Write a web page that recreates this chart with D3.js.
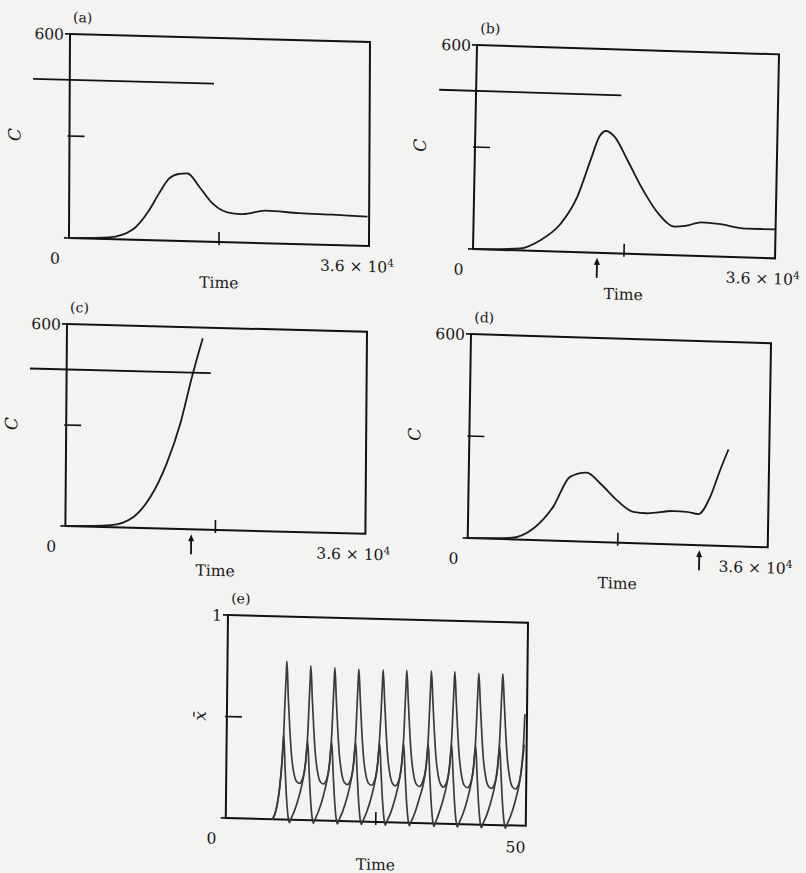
<!DOCTYPE html>
<html>
<head>
<meta charset="utf-8">
<script src="https://cdn.jsdelivr.net/npm/d3@7"></script>
<style>
  body { margin: 0; background: #f3f3f1; }
  text { font-family: "DejaVu Serif", "Liberation Serif", serif; fill: #1a1a1a; }
</style>
</head>
<body>
<script>
// values: [time, C]
const curveA = [[0,0],[4800,5],[7600,29],[9600,88],[10800,139],[12000,183],[13200,197],[14200,199],
  [15600,161],[17200,113],[19600,85],[20800,84],[23600,96],[27600,91],[31600,89],[35800,86]]
const curveB = [[0,0],[5600,6],[8000,32],[10400,83],[12300,163],[13800,272],[14800,342],[15600,359],
  [16600,343],[18200,275],[19900,198],[22000,121],[24000,84],[25200,87],[27200,99],[29200,96],[32400,85],[36000,85]]
const curveC = [[0,0],[5400,6],[8200,33],[10200,94],[12100,194],[13700,314],[15050,453],[16300,568]]
const curveD = [[0,0],[5100,4],[7850,34],[10200,100],[12150,189],[14150,203],[15770,173],[17800,125],
  [19800,92],[21400,89],[24600,98],[26200,97],[27600,91],[29000,143],[30150,223],[31100,284]]

// panel (e): two traces of x-bar against time
const traceUpper = [[7.8,0],[8.4,0.05],[8.9,0.15],[9.3,0.3],[9.5,0.42],[9.65,0.58],[9.8,0.7],[9.9,0.78],
  [10.2,0.6],[10.5,0.45],[10.8,0.33],[11.2,0.24],[11.7,0.19],[12.2,0.18],[12.8,0.21],[13.2,0.29],[13.5,0.42],[13.65,0.55],[13.8,0.68],[13.9,0.76],
  [14.2,0.6],[14.5,0.45],[14.8,0.33],[15.2,0.24],[15.7,0.19],[16.2,0.18],[16.8,0.21],[17.2,0.29],[17.5,0.42],[17.65,0.55],[17.8,0.68],[17.9,0.755],
  [18.2,0.6],[18.5,0.45],[18.8,0.33],[19.2,0.24],[19.7,0.19],[20.2,0.18],[20.8,0.21],[21.2,0.29],[21.5,0.42],[21.65,0.55],[21.8,0.68],[21.9,0.75],
  [22.2,0.6],[22.5,0.45],[22.8,0.33],[23.2,0.24],[23.7,0.19],[24.2,0.18],[24.8,0.21],[25.2,0.29],[25.5,0.42],[25.7,0.55],[25.85,0.68],[25.95,0.75],
  [26.25,0.6],[26.55,0.45],[26.85,0.33],[27.25,0.24],[27.75,0.19],[28.2,0.18],[28.8,0.21],[29.2,0.29],[29.5,0.42],[29.65,0.55],[29.8,0.68],[29.9,0.75],
  [30.2,0.6],[30.5,0.45],[30.8,0.33],[31.2,0.24],[31.7,0.19],[32.2,0.18],[32.8,0.21],[33.3,0.29],[33.6,0.42],[33.75,0.55],[33.9,0.68],[34.0,0.75],
  [34.3,0.6],[34.6,0.45],[34.9,0.33],[35.3,0.24],[35.8,0.19],[36.2,0.18],[36.8,0.21],[37.2,0.29],[37.5,0.42],[37.65,0.55],[37.8,0.68],[37.9,0.75],
  [38.2,0.6],[38.5,0.45],[38.8,0.33],[39.2,0.24],[39.7,0.19],[40.2,0.18],[40.8,0.21],[41.2,0.29],[41.5,0.42],[41.65,0.55],[41.8,0.68],[41.9,0.745],
  [42.2,0.6],[42.5,0.45],[42.8,0.33],[43.2,0.24],[43.7,0.19],[44.2,0.18],[44.8,0.21],[45.2,0.29],[45.5,0.42],[45.65,0.55],[45.8,0.68],[45.9,0.745],
  [46.2,0.6],[46.5,0.45],[46.8,0.33],[47.2,0.24],[47.7,0.19],[48.2,0.18],[48.8,0.21],[49.2,0.29],[49.5,0.42],[49.65,0.55]]
const traceLower = [[7.8,0],[8.4,0.05],[8.9,0.15],[9.3,0.3],[9.5,0.42],
  [9.8,0.25],[10.1,0.1],[10.4,0.01],[10.6,-0.015],[10.8,0],[11.5,0.05],[12.2,0.12],[12.8,0.2],[13.2,0.28],[13.5,0.39],
  [13.8,0.24],[14.1,0.1],[14.4,0.01],[14.6,-0.015],[14.8,0],[15.5,0.05],[16.2,0.12],[16.8,0.2],[17.2,0.28],[17.5,0.39],
  [17.8,0.24],[18.1,0.1],[18.4,0.01],[18.6,-0.015],[18.8,0],[19.5,0.05],[20.2,0.12],[20.8,0.2],[21.2,0.28],[21.5,0.39],
  [21.8,0.24],[22.1,0.1],[22.4,0.01],[22.6,-0.015],[22.8,0],[23.5,0.05],[24.2,0.12],[24.8,0.2],[25.2,0.28],[25.5,0.39],
  [25.8,0.24],[26.1,0.1],[26.4,0.01],[26.6,-0.015],[26.8,0],[27.5,0.05],[28.2,0.12],[28.8,0.2],[29.2,0.28],[29.5,0.39],
  [29.8,0.24],[30.1,0.1],[30.4,0.01],[30.6,-0.015],[30.8,0],[31.5,0.05],[32.2,0.12],[32.9,0.2],[33.3,0.28],[33.6,0.39],
  [33.9,0.24],[34.2,0.1],[34.5,0.01],[34.7,-0.015],[34.9,0],[35.5,0.05],[36.2,0.12],[36.8,0.2],[37.2,0.28],[37.5,0.39],
  [37.8,0.24],[38.1,0.1],[38.4,0.01],[38.6,-0.015],[38.8,0],[39.5,0.05],[40.2,0.12],[40.8,0.2],[41.2,0.28],[41.5,0.39],
  [41.8,0.24],[42.1,0.1],[42.4,0.01],[42.6,-0.015],[42.8,0],[43.5,0.05],[44.2,0.12],[44.8,0.2],[45.2,0.28],[45.5,0.39],
  [45.8,0.24],[46.1,0.1],[46.4,0.01],[46.6,-0.015],[46.8,0],[47.5,0.05],[48.2,0.12],[48.8,0.2],[49.2,0.28],[49.6,0.4]]

// horizontal level line in (a)-(c) and the arrow marks
const thresholdC = 465
const thresholdSpan = [-4400, 17300]
const arrowTime = { b: 14800, c: 15100, d: 27800 }

const letters = ["(a)", "(b)", "(c)", "(d)", "(e)"]

// page layout; the scan is slightly sheared so each panel gets its own matrix
const panels = [
  { key: "a", x: 70,  y: 34,  w: 300, h: 204, ky: 0.0265, kx: -0.005, series: [curveA], xMax: 36000, yMax: 600, top: "600", right: "sci", yLab: "C", level: true },
  { key: "b", x: 477, y: 45,  w: 302, h: 204, ky: 0.031,  kx: -0.0196, series: [curveB], xMax: 36000, yMax: 600, top: "600", right: "sci", yLab: "C", level: true },
  { key: "c", x: 67,  y: 324, w: 300, h: 202, ky: 0.026,  kx: -0.008, series: [curveC], xMax: 36000, yMax: 600, top: "600", right: "sci", yLab: "C", level: true },
  { key: "d", x: 471, y: 334, w: 300, h: 204, ky: 0.031,  kx: -0.016, series: [curveD], xMax: 36000, yMax: 600, top: "600", right: "sci", yLab: "C", level: false },
  { key: "e", x: 228, y: 615, w: 300, h: 203, ky: 0.026,  kx: -0.011, series: [traceUpper, traceLower], xMax: 50, yMax: 1, top: "1", right: "50", yLab: "x\u0304", level: false }
]

const svg = d3.select("body").append("svg")
    .attr("width", 806)
    .attr("height", 873)

svg.append("rect").attr("width", 806).attr("height", 873).attr("fill", "#f3f3f1")

panels.forEach((p, i) => {
  const g = svg.append("g")
      .attr("transform", `matrix(1,${p.ky},${p.kx},1,${p.x},${p.y})`)

  const x = d3.scaleLinear().domain([0, p.xMax]).range([0, p.w])
  const y = d3.scaleLinear().domain([0, p.yMax]).range([p.h, 0])

  // frame
  g.append("rect")
      .attr("width", p.w).attr("height", p.h)
      .attr("fill", "none").attr("stroke", "#111").attr("stroke-width", 2)

  // outward ticks at top and bottom of the y range
  ;[0, p.yMax].forEach(v => {
    g.append("line").attr("x1", -5).attr("x2", 0).attr("y1", y(v)).attr("y2", y(v))
      .attr("stroke", "#111").attr("stroke-width", 1.6)
  })
  // inward mid tick on y, crossing mid tick on x
  g.append("line").attr("x1", -2).attr("x2", 15).attr("y1", y(p.yMax / 2)).attr("y2", y(p.yMax / 2))
      .attr("stroke", "#111").attr("stroke-width", 1.6)
  g.append("line").attr("x1", x(p.xMax / 2)).attr("x2", x(p.xMax / 2)).attr("y1", p.h - 10).attr("y2", p.h + 3)
      .attr("stroke", "#111").attr("stroke-width", 1.6)

  if (p.level) {
    g.append("line")
        .attr("x1", x(thresholdSpan[0])).attr("x2", x(thresholdSpan[1]))
        .attr("y1", y(thresholdC)).attr("y2", y(thresholdC))
        .attr("stroke", "#111").attr("stroke-width", 1.8)
  }

  const line = d3.line()
      .x(d => x(d[0]))
      .y(d => y(d[1]))
      .curve(d3.curveMonotoneX)

  p.series.forEach(s => {
    g.append("path")
        .attr("d", line(s))
        .attr("fill", "none")
        .attr("stroke", p.key === "e" ? "#3a3a3a" : "#1a1a1a")
        .attr("stroke-width", p.key === "e" ? 1.7 : 1.8)
        .attr("stroke-linejoin", "round")
  })

  if (arrowTime[p.key] !== undefined) {
    const ax = x(arrowTime[p.key])
    g.append("line").attr("x1", ax).attr("x2", ax).attr("y1", p.h + 10).attr("y2", p.h + 25)
        .attr("stroke", "#111").attr("stroke-width", 1.8)
    g.append("path")
        .attr("d", `M${ax - 3},${p.h + 12} L${ax},${p.h + 5} L${ax + 3},${p.h + 12} Z`)
        .attr("fill", "#111")
  }

  // texts
  g.append("text").attr("x", 3).attr("y", -12).attr("font-size", 14).text(letters[i])
  g.append("text").attr("x", -6).attr("y", 6).attr("text-anchor", "end").attr("font-size", 15.5).text(p.top)
  g.append("text").attr("x", -14).attr("y", p.h + 26).attr("text-anchor", "middle").attr("font-size", 15.5).text("0")

  if (p.right === "sci") {
    const t = g.append("text").attr("x", p.w + 25).attr("y", p.h + 26).attr("text-anchor", "end").attr("font-size", 15.5)
    t.append("tspan").text("3.6 \u00d7 10")
    t.append("tspan").attr("dy", -6).attr("font-size", 10.5).text("4")
  } else {
    g.append("text").attr("x", p.w - 10).attr("y", p.h + 27).attr("text-anchor", "middle").attr("font-size", 15.5).text(p.right)
  }

  g.append("text").attr("x", p.w / 2).attr("y", p.h + (p.key === "e" ? 48 : 46))
      .attr("text-anchor", "middle").attr("font-size", 15.5).text("Time")

  const yx = p.key === "e" ? -21 : -49
  g.append("text")
      .attr("transform", `translate(${yx},${p.h / 2}) rotate(-90)`)
      .attr("text-anchor", "middle")
      .attr("font-size", 17)
      .attr("font-style", "italic")
      .text(p.yLab)
})
</script>
</body>
</html>
